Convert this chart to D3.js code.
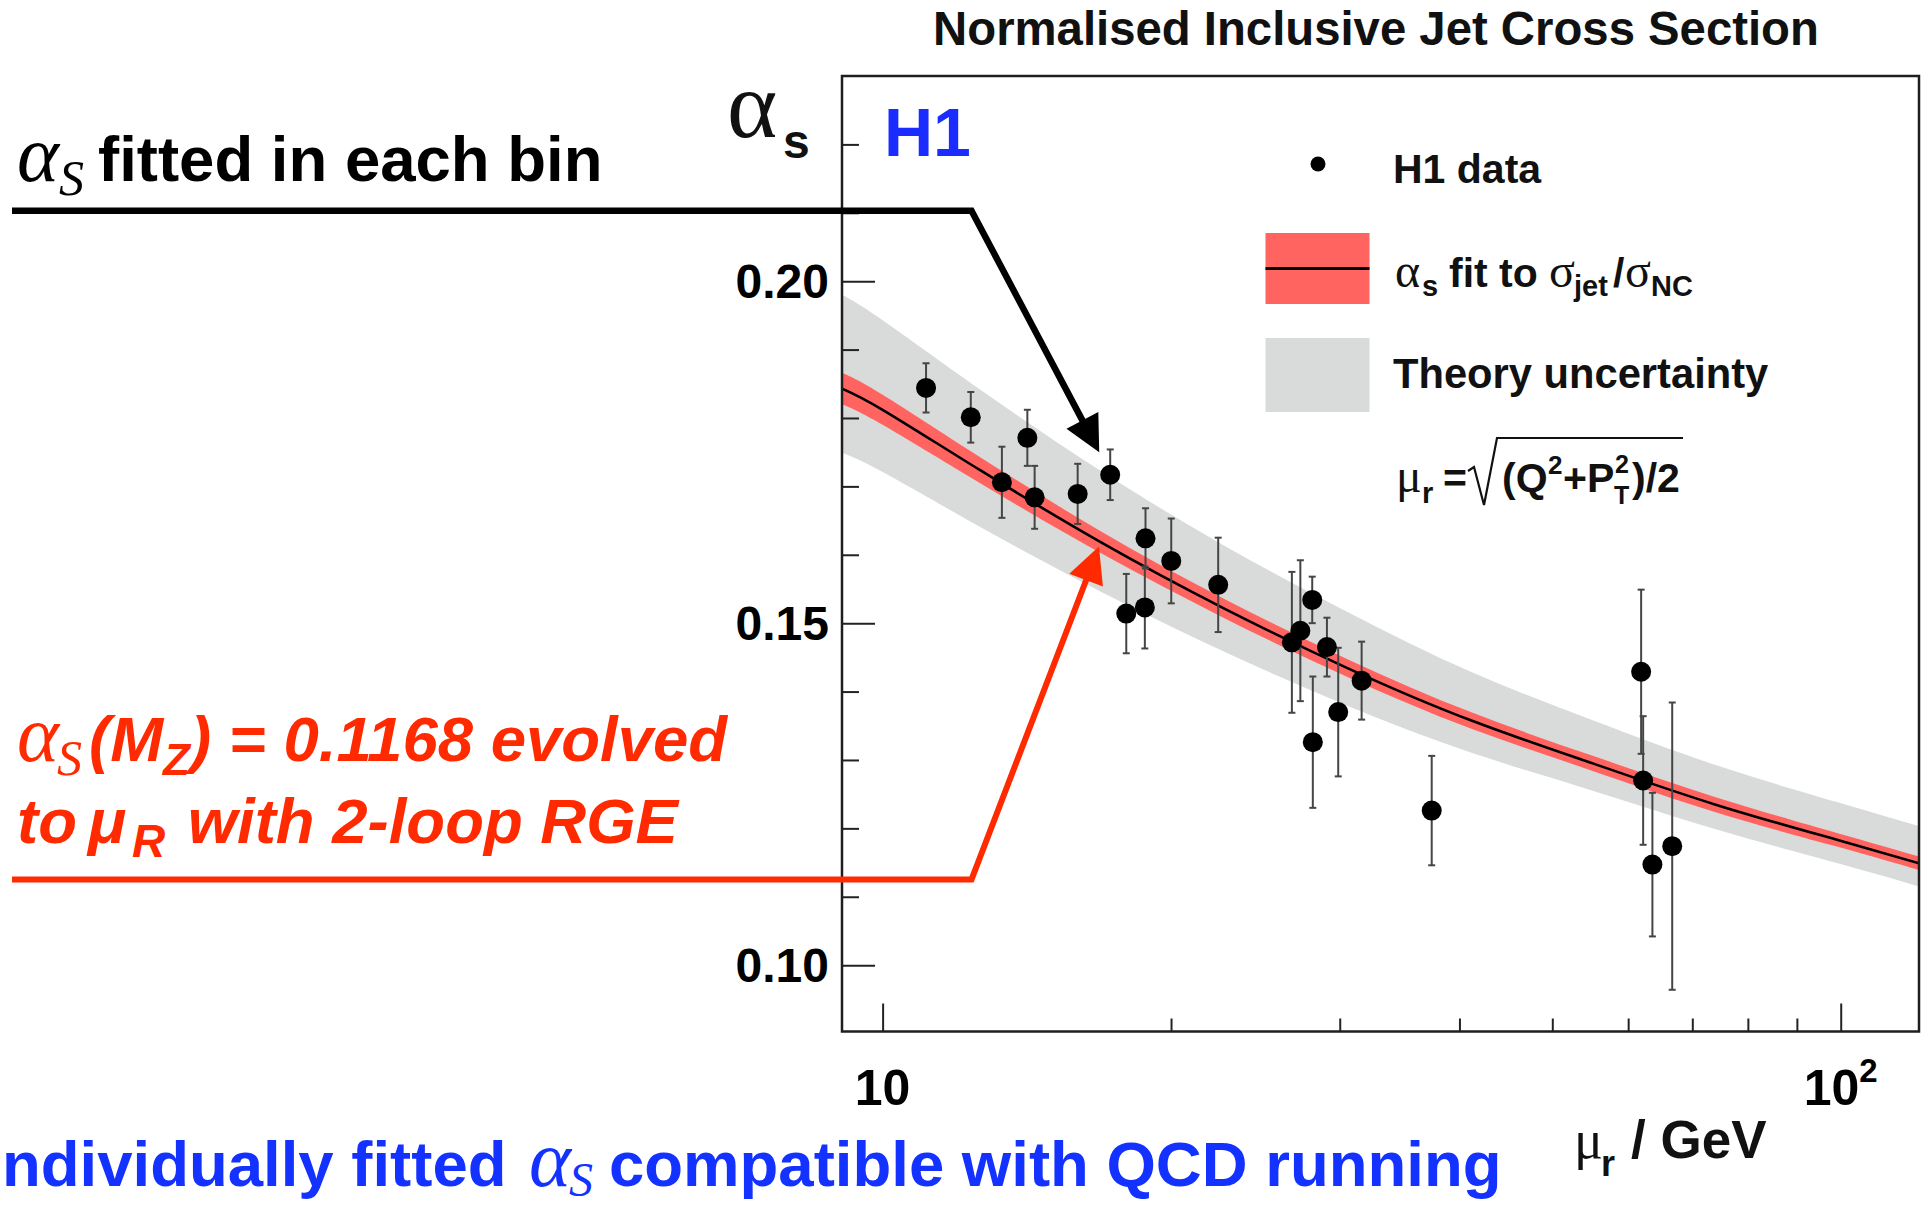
<!DOCTYPE html>
<html>
<head>
<meta charset="utf-8">
<script src="https://cdn.jsdelivr.net/npm/d3@7"></script>
<style>
  html, body { margin: 0; padding: 0; background: #fff; }
  svg { display: block; }
  text { font-family: "Liberation Sans", Arial, Helvetica, sans-serif; }
</style>
</head>
<body>
<svg id="chart" width="1921" height="1206"></svg>
<script>
// alpha_s fitted in each bin of the normalised inclusive jet cross section
const muBins = [11.10, 12.36, 13.32, 14.16, 14.41, 15.98, 17.28, 17.96, 18.78, 18.81, 20.01, 22.40,
                26.74, 27.29, 28.08, 28.12, 29.09, 29.89, 31.62, 37.42, 61.9, 62.2, 63.6, 66.7];
const alphaFitted = [0.1844, 0.1801, 0.1706, 0.1771, 0.1684, 0.1689, 0.1717, 0.1514, 0.1523, 0.1624, 0.1591, 0.1556,
                     0.1472, 0.1489, 0.1534, 0.1326, 0.1465, 0.1370, 0.1416, 0.1226, 0.1429, 0.1270, 0.1147, 0.1174];
const alphaError = [0.0036, 0.0037, 0.0052, 0.0041, 0.0046, 0.0044, 0.0037, 0.0058, 0.0060, 0.0044, 0.0062, 0.0069,
                    0.0103, 0.0103, 0.0034, 0.0096, 0.0043, 0.0094, 0.0057, 0.0080, 0.0120, 0.0094, 0.0105, 0.0210];

// running alpha_s from the combined fit, sampled along mu_r
const curveScales  = [9.07, 10, 12.63, 16.96, 22.76, 30.6, 41.1, 55.1, 73.9, 99.3, 120.7];
const fitCentral   = [0.1843, 0.1812, 0.1724, 0.1617, 0.1521, 0.1434, 0.1358, 0.1295, 0.1235, 0.1183, 0.1149];
const fitHalfWidth = [0.0023, 0.0022, 0.0019, 0.0016, 0.0014, 0.0013, 0.0012, 0.0011, 0.0011, 0.0010, 0.0010];
const theoryUpper  = [0.1980, 0.1943, 0.1842, 0.1721, 0.1613, 0.1516, 0.1429, 0.1358, 0.1293, 0.1238, 0.1203];
const theoryLower  = [0.1749, 0.1721, 0.1641, 0.1545, 0.1458, 0.1379, 0.1311, 0.1255, 0.1199, 0.1149, 0.1115];

// axis ticks
const yMajorTicks = [0.10, 0.15, 0.20];
const yMajorLabels = ["0.10", "0.15", "0.20"];
const yMinorTicks = [0.11, 0.12, 0.13, 0.14, 0.16, 0.17, 0.18, 0.19, 0.21, 0.22];
const xMajorTicks = [10, 100];
const xMajorLabels = [["10", ""], ["10", "2"]];
const xMinorTicks = [20, 30, 40, 50, 60, 70, 80, 90];

// annotation arrow targets (mu_r, alpha_s)
const binArrowTarget = [16.83, 0.1750];
const rgeArrowTarget = [16.82, 0.1612];

const svg = d3.select("#chart");
const frameLeft = 842, frameRight = 1919, frameTop = 76, frameBottom = 1031.5;

const x = d3.scaleLog().domain([9.07, 120.7]).range([frameLeft, frameRight]);
const y = d3.scaleLinear().domain([0.0903, 0.2300]).range([frameBottom, frameTop]);

svg.append("defs").append("clipPath").attr("id", "plotArea")
  .append("rect").attr("x", frameLeft).attr("y", frameTop)
  .attr("width", frameRight - frameLeft).attr("height", frameBottom - frameTop);

const plot = svg.append("g").attr("clip-path", "url(#plotArea)");
const smooth = d3.curveNatural;

// theory uncertainty band
const theoryArea = d3.area()
  .x((d, i) => x(curveScales[i]))
  .y0((d, i) => y(theoryLower[i]))
  .y1((d, i) => y(theoryUpper[i]))
  .curve(smooth);
plot.append("path").datum(curveScales).attr("d", theoryArea).attr("fill", "#d9dada");

// fit uncertainty band
const fitArea = d3.area()
  .x((d, i) => x(curveScales[i]))
  .y0((d, i) => y(fitCentral[i] - fitHalfWidth[i]))
  .y1((d, i) => y(fitCentral[i] + fitHalfWidth[i]))
  .curve(smooth);
plot.append("path").datum(curveScales).attr("d", fitArea).attr("fill", "#ff6460");

// central fit line
const fitLine = d3.line()
  .x((d, i) => x(curveScales[i]))
  .y((d, i) => y(fitCentral[i]))
  .curve(smooth);
plot.append("path").datum(curveScales).attr("d", fitLine)
  .attr("fill", "none").attr("stroke", "#000").attr("stroke-width", 2.6);

// data points with error bars
const points = muBins.map((m, i) => ({ m, a: alphaFitted[i], e: alphaError[i] }));
const bars = plot.append("g").attr("stroke", "#454545").attr("stroke-width", 2);
points.forEach(p => {
  const cx = x(p.m), y1 = y(p.a + p.e), y2 = y(p.a - p.e);
  bars.append("line").attr("x1", cx).attr("x2", cx).attr("y1", y1).attr("y2", y2);
  bars.append("line").attr("x1", cx - 3.5).attr("x2", cx + 3.5).attr("y1", y1).attr("y2", y1);
  bars.append("line").attr("x1", cx - 3.5).attr("x2", cx + 3.5).attr("y1", y2).attr("y2", y2);
});
plot.append("g").selectAll("circle").data(points).join("circle")
  .attr("cx", d => x(d.m)).attr("cy", d => y(d.a)).attr("r", 10).attr("fill", "#000");

// axes (ticks point into the frame)
const axisColor = "#222";
const yAxisG = svg.append("g").attr("transform", `translate(${frameLeft},0)`);
yAxisG.call(d3.axisRight(y).tickValues(yMajorTicks).tickSize(33).tickFormat(""));
yAxisG.call(g => g.select(".domain").remove());
const yMinorG = svg.append("g").attr("transform", `translate(${frameLeft},0)`);
yMinorG.call(d3.axisRight(y).tickValues(yMinorTicks).tickSize(17).tickFormat(""));
yMinorG.call(g => g.select(".domain").remove());

const xAxisG = svg.append("g").attr("transform", `translate(0,${frameBottom})`);
xAxisG.call(d3.axisTop(x).tickValues(xMajorTicks).tickSize(28).tickFormat(""));
xAxisG.call(g => g.select(".domain").remove());
const xMinorG = svg.append("g").attr("transform", `translate(0,${frameBottom})`);
xMinorG.call(d3.axisTop(x).tickValues(xMinorTicks).tickSize(13).tickFormat(""));
xMinorG.call(g => g.select(".domain").remove());
svg.selectAll(".tick line").attr("stroke", axisColor).attr("stroke-width", 2);

// frame
svg.append("rect").attr("x", frameLeft).attr("y", frameTop)
  .attr("width", frameRight - frameLeft).attr("height", frameBottom - frameTop)
  .attr("fill", "none").attr("stroke", "#1e1e1e").attr("stroke-width", 2.5);

// tick labels
svg.append("g").selectAll("text").data(yMajorTicks).join("text")
  .attr("x", 829).attr("y", d => y(d) + 17)
  .attr("text-anchor", "end").attr("font-size", 48).attr("font-weight", "bold")
  .text((d, i) => yMajorLabels[i]);

xMajorTicks.forEach((v, i) => {
  const t = svg.append("text").attr("x", x(v)).attr("y", 1105)
    .attr("text-anchor", "middle").attr("font-size", 50).attr("font-weight", "bold");
  t.append("tspan").text(xMajorLabels[i][0]);
  if (xMajorLabels[i][1]) t.append("tspan").attr("font-size", 33).attr("dy", -23).text(xMajorLabels[i][1]);
});

// rich text helper: each part has its own x, baseline offset and font
function richText(parent, baseY, parts, attrs) {
  const t = parent.append("text").attr("y", baseY);
  Object.entries(attrs || {}).forEach(([k, v]) => t.attr(k, v));
  parts.forEach(p => {
    const s = t.append("tspan").text(p.text).attr("x", p.x).attr("y", baseY + (p.shift || 0));
    if (p.family) s.attr("font-family", p.family);
    if (p.size) s.attr("font-size", p.size);
    if (p.weight) s.attr("font-weight", p.weight);
    if (p.style) s.attr("font-style", p.style);
  });
  return t;
}
const serif = "'Liberation Serif', 'Times New Roman', serif";

// title
svg.append("text").attr("x", 1376).attr("y", 45).attr("text-anchor", "middle")
  .attr("font-size", 47.3).attr("font-weight", "bold").attr("fill", "#111")
  .text("Normalised Inclusive Jet Cross Section");

// experiment tag
svg.append("text").attr("x", 884).attr("y", 156).attr("font-size", 68).attr("font-weight", "bold")
  .attr("fill", "#1a2cff").text("H1");

// y-axis title
richText(svg, 137, [
  { text: "α", x: 727, family: serif, size: 96 },
  { text: "s", x: 783, size: 48, weight: "bold", shift: 21 }
], { fill: "#111" });

// x-axis title
richText(svg, 1158, [
  { text: "μ", x: 1574, family: serif, size: 54 },
  { text: "r", x: 1601, size: 36, weight: "bold", shift: 18 },
  { text: "/ GeV", x: 1631, size: 53, weight: "bold" }
], { fill: "#111" });

// legend
svg.append("circle").attr("cx", 1318).attr("cy", 164).attr("r", 7.5).attr("fill", "#000");
svg.append("text").attr("x", 1393).attr("y", 183).attr("font-size", 41).attr("font-weight", "bold")
  .attr("fill", "#111").text("H1 data");

svg.append("rect").attr("x", 1265.5).attr("y", 233).attr("width", 104).attr("height", 71).attr("fill", "#ff6460");
svg.append("line").attr("x1", 1265.5).attr("x2", 1369.5).attr("y1", 268.5).attr("y2", 268.5)
  .attr("stroke", "#000").attr("stroke-width", 3);
richText(svg, 287, [
  { text: "α", x: 1395, family: serif, size: 48 },
  { text: "s", x: 1422, size: 29, weight: "bold", shift: 9 },
  { text: "fit to", x: 1449, size: 41, weight: "bold" },
  { text: "σ", x: 1549, family: serif, size: 48 },
  { text: "jet", x: 1574, size: 29, weight: "bold", shift: 9 },
  { text: "/", x: 1613, size: 41, weight: "bold" },
  { text: "σ", x: 1625, family: serif, size: 48 },
  { text: "NC", x: 1651, size: 29, weight: "bold", shift: 9 }
], { fill: "#111" });

svg.append("rect").attr("x", 1265.5).attr("y", 338).attr("width", 104).attr("height", 74).attr("fill", "#d9dada");
svg.append("text").attr("x", 1393).attr("y", 388).attr("font-size", 41.7).attr("font-weight", "bold")
  .attr("fill", "#111").text("Theory uncertainty");

// renormalisation scale definition
richText(svg, 492, [
  { text: "μ", x: 1396, family: serif, size: 48 },
  { text: "r", x: 1422, size: 29, weight: "bold", shift: 11 },
  { text: "=", x: 1443, size: 41, weight: "bold" },
  { text: "(Q", x: 1502, size: 41, weight: "bold" },
  { text: "2", x: 1548, size: 26, weight: "bold", shift: -18 },
  { text: "+P", x: 1563, size: 41, weight: "bold" }
], { fill: "#111" });
// stacked index and exponent on P
svg.append("text").attr("x", 1615).attr("y", 473).attr("font-size", 25).attr("font-weight", "bold")
  .attr("fill", "#111").text("2");
svg.append("text").attr("x", 1614).attr("y", 504).attr("font-size", 25).attr("font-weight", "bold")
  .attr("fill", "#111").text("T");
svg.append("text").attr("x", 1632).attr("y", 492).attr("font-size", 41).attr("font-weight", "bold")
  .attr("fill", "#111").text(")/2");
svg.append("path")
  .attr("d", "M1468,471 L1474,467 L1484,505 L1497,438 L1683,438")
  .attr("fill", "none").attr("stroke", "#111").attr("stroke-width", 2.2);

// annotation: alpha_s fitted in each bin
const black = "#000", red = "#ff2a00", blue = "#1432ff";
richText(svg, 181, [
  { text: "α", x: 17, family: serif, size: 80, style: "italic" },
  { text: "S", x: 59, family: serif, size: 50, style: "italic", shift: 14 },
  { text: "fitted in each bin", x: 98, size: 63.5, weight: "bold" }
], { fill: black });

function annotationArrow(knee, target, color, width) {
  const tx = x(target[0]), ty = y(target[1]);
  const dx = tx - knee[2], dy = ty - knee[3];
  const len = Math.hypot(dx, dy), ux = dx / len, uy = dy / len;
  const headLen = 36, headHalf = 18;
  const bx = tx - ux * headLen, by = ty - uy * headLen;
  svg.append("path")
    .attr("d", `M${knee[0]},${knee[1]} L${knee[2]},${knee[3]} L${bx + ux * 4},${by + uy * 4}`)
    .attr("fill", "none").attr("stroke", color).attr("stroke-width", width)
    .attr("stroke-linejoin", "miter");
  svg.append("path")
    .attr("d", `M${tx},${ty} L${bx - uy * headHalf},${by + ux * headHalf} L${bx + uy * headHalf},${by - ux * headHalf} Z`)
    .attr("fill", color);
}
annotationArrow([12, 210.7, 971.5, 210.7], binArrowTarget, black, 6.5);

// annotation: evolved alpha_s(M_Z)
richText(svg, 761, [
  { text: "α", x: 17, family: serif, size: 80, style: "italic" },
  { text: "S", x: 57, family: serif, size: 50, style: "italic", shift: 14 },
  { text: "(M", x: 89, size: 63.5, weight: "bold", style: "italic" },
  { text: "Z", x: 163, size: 44, weight: "bold", style: "italic", shift: 14 },
  { text: ") = 0.1168 evolved", x: 190, size: 63.5, weight: "bold", style: "italic" }
], { fill: red });
richText(svg, 843, [
  { text: "to", x: 17, size: 63.5, weight: "bold", style: "italic" },
  { text: "μ", x: 88, size: 63.5, weight: "bold", style: "italic" },
  { text: "R", x: 132, size: 46, weight: "bold", style: "italic", shift: 14 },
  { text: " with 2-loop RGE", x: 170, size: 63.5, weight: "bold", style: "italic" }
], { fill: red });
annotationArrow([12, 879.6, 971.5, 879.6], rgeArrowTarget, red, 6);

// conclusion line
richText(svg, 1186, [
  { text: "ndividually fitted", x: 2, size: 63.5, weight: "bold" },
  { text: "α", x: 529, family: serif, size: 80, style: "italic" },
  { text: "S", x: 569, family: serif, size: 48, style: "italic", shift: 10 },
  { text: "compatible with QCD running", x: 609, size: 63.5, weight: "bold" }
], { fill: blue });
</script>
</body>
</html>
